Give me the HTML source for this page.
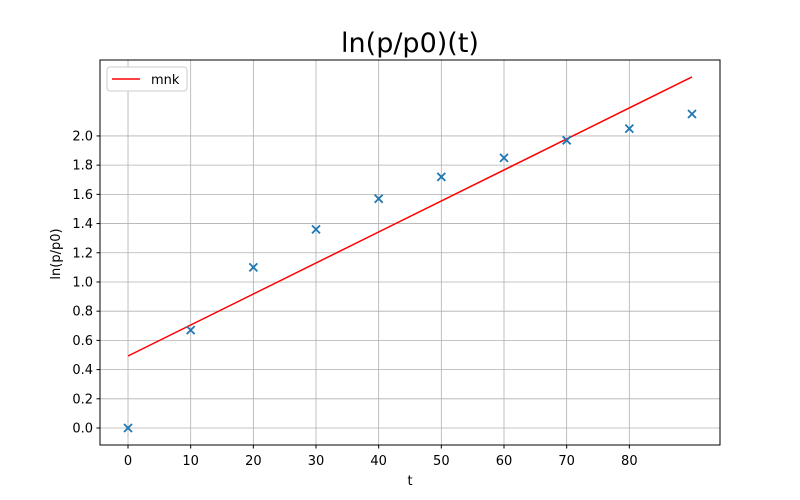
<!DOCTYPE html>
<html><head><meta charset="utf-8"><style>
body{margin:0;background:#fff}
svg{display:block;font-family:"DejaVu Sans","Liberation Sans",sans-serif}
</style></head><body>
<svg id="chart" width="800" height="500">
<rect width="800" height="500" fill="#fff"/>
<g id="grid"></g><g id="ticks"></g><g id="marks"></g>
<rect x="100" y="60" width="620" height="385" fill="none" stroke="#000" stroke-width="1"/>
<text x="410" y="52" font-size="27" text-anchor="middle">ln(p/p0)(t)</text>
<text x="410" y="485" font-size="13" text-anchor="middle">t</text>
<text x="60" y="254" font-size="13" text-anchor="middle" transform="rotate(-90 60 254)">ln(p/p0)</text>
<g>
<rect x="107" y="67" width="80" height="24" rx="3" fill="#fff" stroke="#ccc"/>
<line x1="112" y1="79" x2="140" y2="79" stroke="red" stroke-width="1.5"/>
<text x="151" y="84" font-size="13">mnk</text>
</g>
</svg>
<script>
const tValues=[0,10,20,30,40,50,60,70,80,90];
const lnValues=[0,0.67,1.10,1.36,1.57,1.72,1.85,1.97,2.05,2.15];
const fitStart=[0,0.493];
const fitEnd=[90,2.404];
const xTicks=[0,10,20,30,40,50,60,70,80];
const yTicks=[0,0.2,0.4,0.6,0.8,1.0,1.2,1.4,1.6,1.8,2.0];
const NS="http://www.w3.org/2000/svg";
const X=v=>100+(v+4.47)/(98.94)*620;
const Y=v=>445-(v+0.1164)/(2.6364)*385;
function mk(tag,attrs,parent){const e=document.createElementNS(NS,tag);for(const k in attrs)e.setAttribute(k,attrs[k]);document.getElementById(parent).appendChild(e);return e;}
xTicks.forEach(t=>{
 const g=mk('line',{x1:X(t),x2:X(t),y1:60,y2:445,stroke:'#b0b0b0','stroke-width':0.8},'grid');
 
 
 mk('line',{x1:X(t),x2:X(t),y1:445,y2:448.5,stroke:'#000'},'ticks');
 const l=mk('text',{x:X(t),y:465,'font-size':13,'text-anchor':'middle'},'ticks');
 l.textContent=t;
 
 
});
yTicks.forEach(t=>{
 const g=mk('line',{x1:100,x2:720,y1:Y(t),y2:Y(t),stroke:'#b0b0b0','stroke-width':0.8},'grid');
 
 
 mk('line',{x1:96.5,x2:100,y1:Y(t),y2:Y(t),stroke:'#000'},'ticks');
 const l=mk('text',{x:93,y:Y(t)+4.5,'font-size':13,'text-anchor':'end'},'ticks');
 l.textContent=t.toFixed(1);
 
 
});
const fit=mk('line',{x1:X(fitStart[0]),y1:Y(fitStart[1]),x2:X(fitEnd[0]),y2:Y(fitEnd[1]),stroke:'red','stroke-width':1.5},'marks');


tValues.forEach((t,i)=>{
 const cx=X(t),cy=Y(lnValues[i]),s=4;
 const p=mk('path',{d:`M${cx-s},${cy-s}L${cx+s},${cy+s}M${cx-s},${cy+s}L${cx+s},${cy-s}`,stroke:'#1f77b4','stroke-width':1.8},'marks');
 
 
});
</script>
</body></html>
